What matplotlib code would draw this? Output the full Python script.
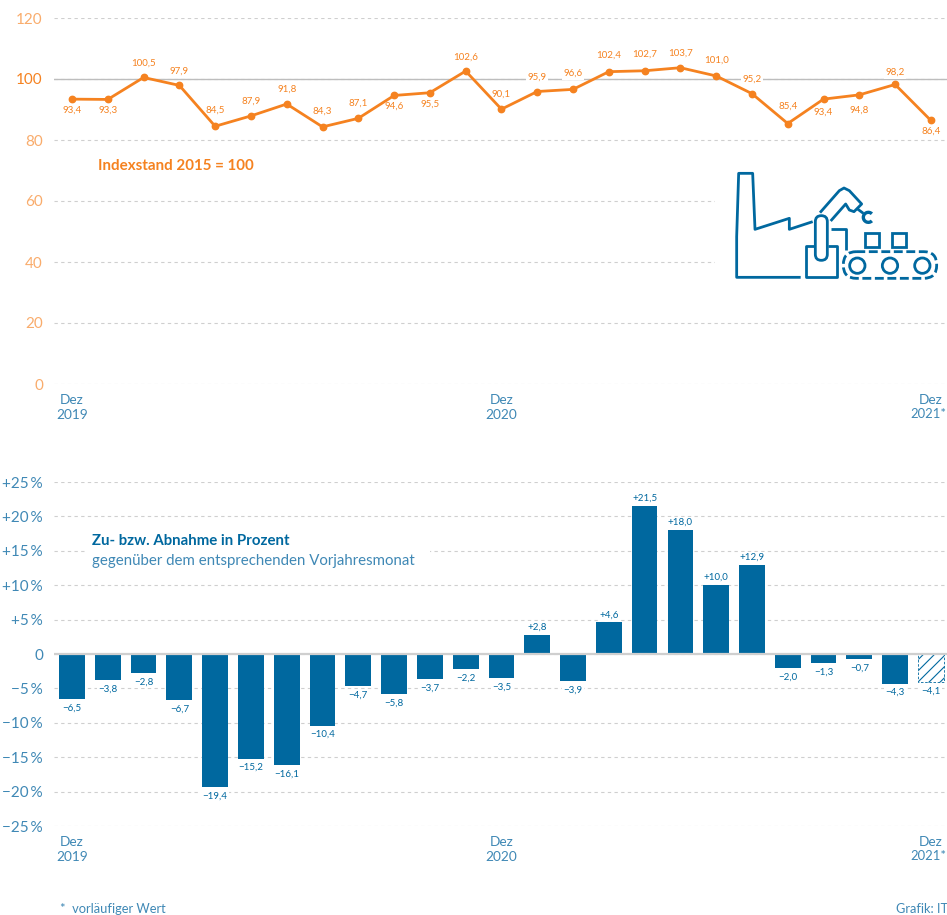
from matplotlib import pyplot as plt
from matplotlib.patches import Rectangle, Circle, FancyBboxPatch, Arc

plt.rcParams['font.family'] = ['Lato', 'DejaVu Sans']
plt.rcParams['hatch.linewidth'] = 0.8

#Daten
index_values = [93.4, 93.3, 100.5, 97.9, 84.5, 87.9, 91.8, 84.3, 87.1, 94.6, 95.5, 102.6, 90.1,
                95.9, 96.6, 102.4, 102.7, 103.7, 101.0, 95.2, 85.4, 93.4, 94.8, 98.2, 86.4]
change_values = [-6.5, -3.8, -2.8, -6.7, -19.4, -15.2, -16.1, -10.4, -4.7, -5.8, -3.7, -2.2, -3.5,
                 2.8, -3.9, 4.6, 21.5, 18.0, 10.0, 12.9, -2.0, -1.3, -0.7, -4.3, -4.1]
x_ticks = [0, 12, 24]
x_labels = ['Dez\n2019', 'Dez\n2020', 'Dez']
last_year = '2021*'
index_ticks = [0, 20, 40, 60, 80, 100, 120]
change_ticks = [-25, -20, -15, -10, -5, 0, 5, 10, 15, 20, 25]
#Abstand der Beschriftung zum Punkt in Pixeln (+ oben, - unten)
index_offsets = [-11, -11, 14, 14, 16, 15, 15, 16, 15, -11, -11, 14, 15,
                 14, 16, 16, 17, 15, 16, 14, 17, -13, -15, 12, -11]

ORANGE = '#F58220'
ORANGE_LIGHT = '#F9AC6C'
BLUE = '#00689F'
BLUE_LIGHT = '#3F88B5'
GRID = '#CFCFCF'

W, H = 947, 915
fig = plt.figure(figsize=(W / 100, H / 100), dpi=100)


def make_axes(top, bottom):
    return fig.add_axes([54 / W, 1 - bottom / H, (W - 54) / W, (bottom - top) / H])


def style_axes(ax, color):
    for side in ax.spines:
        ax.spines[side].set_visible(False)
    ax.set_xlim(-0.503, 24.45)
    ax.set_xticks(x_ticks)
    ax.set_xticklabels(x_labels, color=BLUE_LIGHT, fontsize=9.8, linespacing=1.3)
    ax.tick_params(axis='x', length=0, pad=7.5)
    ax.tick_params(axis='y', length=0, pad=8, labelsize=11, labelcolor=color)
    ax.set_axisbelow(True)
    ax.yaxis.grid(True, color=GRID, linewidth=0.8, dashes=(3, 3))
    #2021* endet genau am Bildrand
    ax.annotate(last_year, (1, 0), xycoords='axes fraction', xytext=(-0.2, -21.8), textcoords='offset points',
                ha='right', va='center', color=BLUE_LIGHT, fontsize=9.4, annotation_clip=False)


#oberes Diagramm
ax1 = make_axes(18, 384)
style_axes(ax1, ORANGE_LIGHT)
ax1.set_ylim(0, 120)
ax1.set_yticks(index_ticks)
ax1.get_yticklabels()[5].set_color(ORANGE)
ax1.axhline(100, color='#BDBDBD', linewidth=1, zorder=1.5)
days = list(range(len(index_values)))
ax1.plot(days, index_values, c=ORANGE, linewidth=2, marker='o', markersize=4.6, zorder=3)
for d, v, off in zip(days, index_values, index_offsets):
    ax1.annotate(f'{v:.1f}'.replace('.', ','), (d, v), xytext=(0, off * 0.72), textcoords='offset points',
                 ha='center', va='center', fontsize=7, color=ORANGE, zorder=2,
                 bbox=dict(facecolor='white', edgecolor='none', pad=1.2))

#unteres Diagramm
ax2 = make_axes(482, 826)
style_axes(ax2, BLUE_LIGHT)
ax2.set_ylim(-25, 25)
ax2.set_yticks(change_ticks)
ax2.set_yticklabels([('0' if t == 0 else f'{t:+d}\u2009%'.replace('-', '\u2212')) for t in change_ticks])
bars = ax2.bar(days, change_values, width=0.72, color=BLUE, zorder=3)
bars[-1].set_facecolor('white')
bars[-1].set_edgecolor(BLUE)
bars[-1].set_hatch('///')
bars[-1].set_linewidth(0.6)
bars[-1].set_linestyle((0, (3, 2)))
ax2.axhline(0, color='#CFCFCF', linewidth=1.6, zorder=4)
for d, v in zip(days, change_values):
    text = f'{v:+.1f}'.replace('.', ',').replace('-', '\u2212')
    ax2.annotate(text, (d, v), xytext=(0, 5.5 if v > 0 else -6.5), textcoords='offset points',
                 ha='center', va='center', fontsize=7, color=BLUE, zorder=5,
                 bbox=dict(facecolor='white', edgecolor='none', pad=1))

#Overlay in Pixelkoordinaten: Abdeckungen, Texte und Symbol
ov = fig.add_axes([0, 0, 1, 1], zorder=10)
ov.set_xlim(0, W)
ov.set_ylim(H, 0)
ov.axis('off')
ov.patch.set_alpha(0)
ov.add_patch(Rectangle((715, 190), 232, 80, facecolor='white', edgecolor='none'))
ov.add_patch(Rectangle((85, 530), 345, 40, facecolor='white', edgecolor='none'))
ov.text(98, 165.5, 'Indexstand 2015 = 100', color=ORANGE, fontsize=10.9, fontweight='bold', va='center')
ov.text(92, 541, 'Zu- bzw. Abnahme in Prozent', color=BLUE, fontsize=10.8, fontweight='bold', va='center')
ov.text(92, 560.5, 'gegenüber dem entsprechenden Vorjahresmonat', color=BLUE_LIGHT, fontsize=10.8, va='center')


def icon_x(v):
    return 700 + v / 3


def icon_y(v):
    return 160 + v / 3


def icon_line(points):
    ov.plot([icon_x(p[0]) for p in points], [icon_y(p[1]) for p in points], color=BLUE, linewidth=2,
            solid_joinstyle='round', solid_capstyle='butt')


icon_line([(302, 352), (110, 352), (110, 230), (116, 40), (158, 40), (165, 208), (268, 175), (268, 208), (338, 185)])
icon_line([(345, 258), (318, 258), (318, 352), (410, 352), (410, 258), (385, 258)])
#Roboterarm
icon_line([(360, 158), (418, 92), (432, 84), (448, 92), (485, 132), (462, 155), (448, 150), (437, 132), (392, 183)])
icon_line([(470, 145), (490, 160)])
icon_line([(392, 208), (438, 208), (438, 270)])
ov.add_patch(Arc((icon_x(505), icon_y(172)), 10, 10, theta1=45, theta2=315, color=BLUE, linewidth=2.4))
ov.add_patch(FancyBboxPatch((icon_x(349), icon_y(170)), 10, 128 / 3, boxstyle='round,pad=1,rounding_size=6',
                            facecolor='white', edgecolor=BLUE, linewidth=2))
for bx in [495, 575]:
    ov.add_patch(Rectangle((icon_x(bx), icon_y(220)), 14, 13.3, facecolor='none', edgecolor=BLUE, linewidth=2))
ov.add_patch(FancyBboxPatch((icon_x(445), icon_y(290)), 250 / 3, 50 / 3, boxstyle='round,pad=5,rounding_size=13',
                            facecolor='none', edgecolor=BLUE, linewidth=2, linestyle=(0, (3.2, 1.3))))
for cx in [472, 570, 667]:
    ov.add_patch(Circle((icon_x(cx), icon_y(317)), 23 / 3, facecolor='none', edgecolor=BLUE, linewidth=2))

#Fussnote
ov.text(60, 909, '*  vorläufiger Wert', color=BLUE_LIGHT, fontsize=9.3, va='center')
ov.text(896, 909, 'Grafik: IT', color=BLUE_LIGHT, fontsize=9.2, va='center')

fig.savefig('out.png', dpi=100, facecolor='white')
